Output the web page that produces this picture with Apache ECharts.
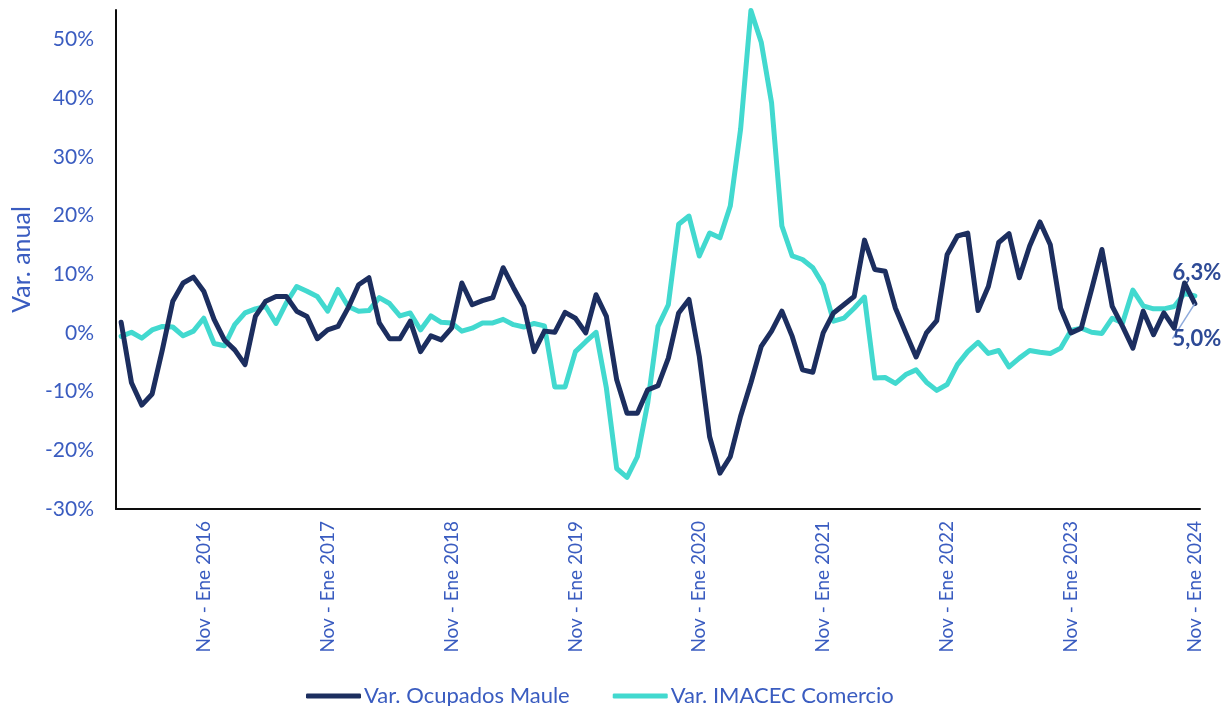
<!DOCTYPE html>
<html>
<head>
<meta charset="utf-8">
<script src="https://cdn.jsdelivr.net/npm/echarts@6/dist/echarts.min.js"></script>
<style>
html,body{margin:0;padding:0;background:#fff;}
#chart{width:1223px;height:706px;}
</style>
</head>
<body>
<div id="chart"></div>
<script>
// Rolling quarter periods: Mar - May 2015 ... Nov - Ene 2024
const monthAbbr = ['Ene','Feb','Mar','Abr','May','Jun','Jul','Ago','Sep','Oct','Nov','Dic'];
const firstEndMonth = 4;   // May (0-based)
const firstEndYear = 2015;
const periodCount = 105;
const categories = [];
for (let k = 0; k < periodCount; k++) {
  const endIdx = firstEndMonth + k;
  const endM = endIdx % 12;
  const endY = firstEndYear + Math.floor(endIdx / 12);
  const startM = (endM + 10) % 12;
  categories.push(monthAbbr[startM] + ' - ' + monthAbbr[endM] + ' ' + endY);
}

const ocupadosMaule = [
  1.8,-8.5,-12.3,-10.4,-2.8,5.4,8.5,9.5,7.1,2.3,
  -1.2,-2.9,-5.4,2.8,5.4,6.2,6.2,3.7,2.8,-1.0,
  0.5,1.1,4.3,8.2,9.4,1.7,-1.0,-1.0,2.0,-3.2,
  -0.5,-1.2,0.8,8.5,4.8,5.5,6.0,11.1,7.7,4.5,
  -3.2,0.3,0.1,3.5,2.5,0.0,6.5,2.8,-8.0,-13.7,
  -13.7,-9.7,-9.0,-4.3,3.4,5.7,-4.0,-17.7,-23.9,-21.1,
  -14.2,-8.5,-2.3,0.3,3.7,-0.6,-6.3,-6.7,0.0,3.4,
  4.8,6.2,15.8,10.8,10.5,4.2,0.0,-4.1,0.0,2.1,
  13.3,16.5,17.0,3.8,7.9,15.4,16.9,9.4,14.8,18.9,
  15.0,4.2,0.0,0.8,7.4,14.2,4.5,1.1,-2.6,3.7,
  -0.3,3.4,0.8,8.5,5.0
];

const imacecComercio = [
  -0.6,0.1,-0.9,0.5,1.1,1.0,-0.5,0.3,2.5,-1.8,
  -2.2,1.4,3.4,4.1,4.5,1.6,5.1,7.9,7.1,6.2,
  3.7,7.4,4.5,3.7,3.8,6.0,5.0,2.9,3.4,0.5,
  2.9,1.8,1.7,0.3,0.8,1.7,1.7,2.3,1.4,1.0,
  1.6,1.2,-9.2,-9.2,-3.2,-1.5,0.1,-9.4,-23.1,-24.6,
  -21.1,-12.0,1.1,4.8,18.5,19.9,13.1,17.0,16.2,21.6,
  34.7,54.9,49.5,39.2,18.2,13.1,12.5,11.1,8.2,2.0,
  2.5,4.2,6.1,-7.7,-7.6,-8.6,-7.1,-6.3,-8.4,-9.8,
  -8.8,-5.4,-3.2,-1.6,-3.5,-3.0,-5.8,-4.3,-3.0,-3.3,
  -3.5,-2.6,0.4,0.8,0.1,-0.1,2.5,1.7,7.3,4.6,
  4.1,4.1,4.5,6.7,6.3
];

const seriesNames = ['Var. Ocupados Maule', 'Var. IMACEC Comercio'];
const yTicks = { min: -30, max: 55, interval: 10 };

const FONT = 'Lato';
const BLUE = '#3a5cc0';
const LABEL_BLUE = '#2d4a96';
const NAVY = '#1c2e5f';
const CYAN = '#42d9cf';

function fmt(v) { return v.toFixed(1).replace('.', ',') + '%'; }

function withLastLabel(arr, labelOpt) {
  return arr.map((v, i) => i === arr.length - 1 ? { value: v, label: labelOpt } : v);
}

const chart = echarts.init(document.getElementById('chart'), null, { renderer: 'canvas' });
chart.setOption({
  backgroundColor: '#ffffff',
  animation: false,
  grid: { left: 116, right: 23, top: 10, bottom: 197, containLabel: false },
  legend: {
    data: seriesNames,
    left: 301,
    top: 680,
    icon: 'roundRect',
    itemWidth: 55,
    itemHeight: 5,
    itemGap: 43,
    textStyle: { color: BLUE, fontFamily: FONT, fontSize: 22, padding: [0, 0, 0, -2] }
  },
  xAxis: {
    type: 'category',
    data: categories,
    boundaryGap: true,
    axisLine: { show: true, onZero: false, lineStyle: { color: '#0d0d0d', width: 2 } },
    axisTick: { show: false },
    axisLabel: {
      rotate: 90,
      margin: 12,
      color: BLUE,
      fontFamily: FONT,
      fontSize: 19,
      interval: (idx) => (idx - 8) % 12 === 0
    },
    splitLine: { show: false }
  },
  yAxis: {
    type: 'value',
    min: yTicks.min,
    max: yTicks.max,
    interval: yTicks.interval,
    name: 'Var. anual',
    nameLocation: 'middle',
    nameRotate: 90,
    nameGap: 76,
    nameTextStyle: { color: BLUE, fontFamily: FONT, fontSize: 25 },
    axisLine: { show: true, lineStyle: { color: '#0d0d0d', width: 2 } },
    axisTick: { show: false },
    splitLine: { show: false },
    axisLabel: {
      color: BLUE,
      fontFamily: FONT,
      fontSize: 21,
      margin: 22,
      showMaxLabel: false,
      formatter: (v) => v + '%'
    }
  },
  series: [
    {
      name: seriesNames[0],
      type: 'line',
      z: 3,
      data: withLastLabel(ocupadosMaule, {
        show: true,
        position: 'bottom',
        distance: 4,
        formatter: (p) => fmt(p.value),
        color: LABEL_BLUE,
        fontFamily: FONT,
        fontWeight: 'bold',
        fontSize: 22
      }),
      symbol: 'circle',
      symbolSize: 0,
      showSymbol: true,
      showAllSymbol: true,
      labelLayout: { dx: 2, dy: 20 },
      labelLine: { show: true, lineStyle: { color: '#8eaadc', width: 1.5 } },
      lineStyle: { color: NAVY, width: 5, join: 'round', cap: 'round' },
      itemStyle: { color: NAVY }
    },
    {
      name: seriesNames[1],
      type: 'line',
      z: 2,
      data: withLastLabel(imacecComercio, {
        show: true,
        position: 'top',
        offset: [2, -7],
        formatter: (p) => fmt(p.value),
        color: LABEL_BLUE,
        fontFamily: FONT,
        fontWeight: 'bold',
        fontSize: 22
      }),
      symbol: 'circle',
      symbolSize: 0,
      showSymbol: true,
      showAllSymbol: true,
      lineStyle: { color: CYAN, width: 5, join: 'round', cap: 'round' },
      itemStyle: { color: CYAN }
    }
  ]
});
</script>
</body>
</html>
